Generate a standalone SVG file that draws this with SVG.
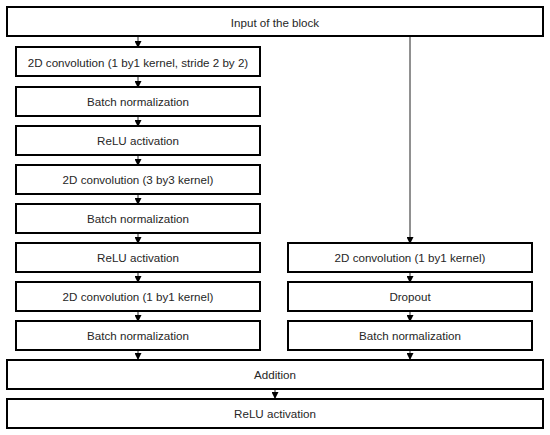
<svg xmlns="http://www.w3.org/2000/svg" width="550" height="435" viewBox="0 0 550 435">
<style>
.b{fill:#fff;stroke:#000;stroke-width:2}
.t{font-family:"Liberation Sans",Arial,sans-serif;font-size:11.6px;fill:#262626;text-anchor:middle;dominant-baseline:central}
.c{stroke:#222;stroke-width:1;fill:none;marker-end:url(#a)}
</style>
<defs>
<marker id="a" markerWidth="7" markerHeight="7" refX="6" refY="3.5" orient="auto" markerUnits="userSpaceOnUse">
<path d="M0,0 L7,3.5 L0,7 Z" fill="#000"/>
</marker>
</defs>
<rect width="550" height="435" fill="#fff"/>
<g id="connectors">
<line class="c" x1="138" y1="37" x2="138" y2="47"/>
<line class="c" x1="138" y1="77" x2="138" y2="87"/>
<line class="c" x1="138" y1="116" x2="138" y2="126"/>
<line class="c" x1="138" y1="155" x2="138" y2="165"/>
<line class="c" x1="138" y1="194" x2="138" y2="204"/>
<line class="c" x1="138" y1="233" x2="138" y2="243"/>
<line class="c" x1="138" y1="272" x2="138" y2="282"/>
<line class="c" x1="138" y1="311" x2="138" y2="321"/>
<line class="c" x1="138" y1="350" x2="138" y2="359"/>
<line class="c" x1="410" y1="37" x2="410" y2="243"/>
<line class="c" x1="410" y1="272" x2="410" y2="282"/>
<line class="c" x1="410" y1="311" x2="410" y2="321"/>
<line class="c" x1="410" y1="350" x2="410" y2="359"/>
<line class="c" x1="275" y1="389" x2="275" y2="398"/>
</g>
<g id="input"><rect class="b" x="7" y="7" width="536" height="29"/><text class="t" x="275" y="22">Input of the block</text></g>
<g id="conv1"><rect class="b" x="16" y="47" width="244" height="29"/><text class="t" x="138" y="62">2D convolution (1 by1 kernel, stride 2 by 2)</text></g>
<g id="bn1"><rect class="b" x="16" y="87" width="244" height="29"/><text class="t" x="138" y="101">Batch normalization</text></g>
<g id="relu1"><rect class="b" x="16" y="126" width="244" height="29"/><text class="t" x="138" y="140">ReLU activation</text></g>
<g id="conv2"><rect class="b" x="16" y="165" width="244" height="29"/><text class="t" x="138" y="179">2D convolution (3 by3 kernel)</text></g>
<g id="bn2"><rect class="b" x="16" y="204" width="244" height="29"/><text class="t" x="138" y="218">Batch normalization</text></g>
<g id="relu2"><rect class="b" x="16" y="243" width="244" height="29"/><text class="t" x="138" y="257">ReLU activation</text></g>
<g id="conv3"><rect class="b" x="16" y="282" width="244" height="29"/><text class="t" x="138" y="296">2D convolution (1 by1 kernel)</text></g>
<g id="bn3"><rect class="b" x="16" y="321" width="244" height="29"/><text class="t" x="138" y="335">Batch normalization</text></g>
<g id="convS"><rect class="b" x="288" y="243" width="244" height="29"/><text class="t" x="410" y="257">2D convolution (1 by1 kernel)</text></g>
<g id="dropout"><rect class="b" x="288" y="282" width="244" height="29"/><text class="t" x="410" y="296">Dropout</text></g>
<g id="bnS"><rect class="b" x="288" y="321" width="244" height="29"/><text class="t" x="410" y="335">Batch normalization</text></g>
<g id="addition"><rect class="b" x="7" y="360" width="536" height="29"/><text class="t" x="275" y="374">Addition</text></g>
<g id="relu3"><rect class="b" x="7" y="399" width="536" height="29"/><text class="t" x="275" y="413">ReLU activation</text></g>
</svg>
